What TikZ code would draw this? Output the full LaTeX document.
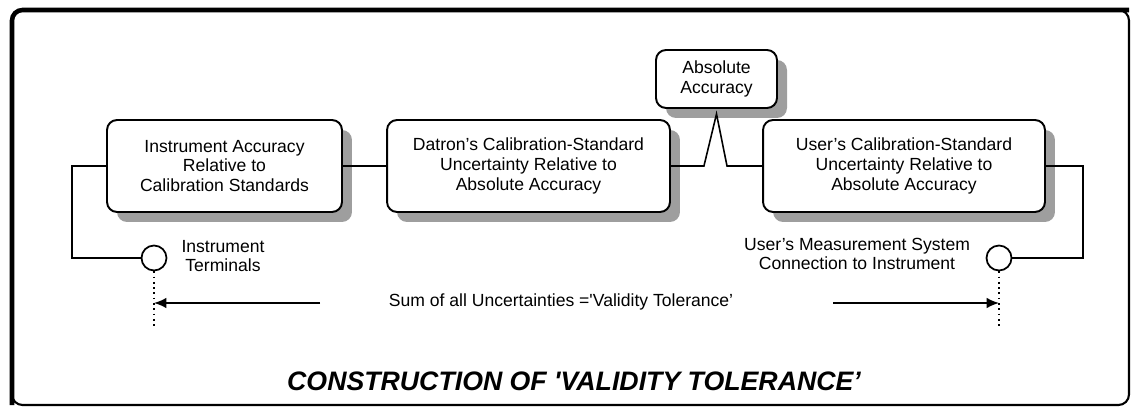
\documentclass[tikz,border=0pt]{standalone}
\usepackage{fontspec}
\setmainfont{Liberation Sans}
\usepackage{tikz}
\usetikzlibrary{arrows.meta,shadows}
\tikzset{>=Latex}
\tikzset{
  stdbox/.style={draw, line width=1.1pt, rounded corners=5.7pt, fill=white, align=center,
    font=\fontsize{10}{11.2}\selectfont, inner sep=0pt,
    general shadow={fill=black!38, shadow xshift=0.2cm, shadow yshift=-0.2cm}},
  lbl/.style={align=center, font=\fontsize{10}{11}\selectfont, inner sep=0pt},
  term/.style={draw, circle, line width=1pt, fill=white, minimum size=0.5cm, inner sep=0pt},
  wire/.style={line width=0.9pt},
  gauge/.style={line width=1pt, dotted},
  span/.style={line width=1pt, -{Latex[length=7pt,width=6pt]}}
}

\begin{document}
\begin{tikzpicture}[x=0.02cm, y=-0.02cm]
      \useasboundingbox (0,0) rectangle (1131,408);
      % frame
      \draw[line width=1.2pt, rounded corners=6pt] (12,10) rectangle (1129,405);
      \draw[line width=2.6pt, rounded corners=6pt] (12,405) -- (12,10) -- (1129,10);
      % the four accuracy boxes
      \node[stdbox, minimum width=4.7cm, minimum height=1.84cm] (instr) at (224.5,166)
        {Instrument Accuracy\\Relative to\\Calibration Standards};
      \node[stdbox, minimum width=5.66cm, minimum height=1.84cm] (datron) at (528.5,166)
        {Datron's Calibration-Standard\\Uncertainty Relative to\\Absolute Accuracy};
      \node[stdbox, minimum width=5.64cm, minimum height=1.84cm] (user) at (904,166)
        {User's Calibration-Standard\\Uncertainty Relative to\\Absolute Accuracy};
      \node[stdbox, minimum width=2.42cm, minimum height=1.16cm] (absacc) at (716.5,79)
        {Absolute\\Accuracy};
      % terminals
      \node[term] (termL) at (154,258) {};
      \node[term] (termR) at (999,258) {};
      \node[lbl] (termLlbl) at (223,256) {Instrument\\Terminals};
      \node[lbl] (termRlbl) at (857,254) {User's Measurement System\\Connection to Instrument};
      % chain of connections
      \draw[wire] (instr.west) -- ++(-34,0) |- (termL.west);
      \draw[wire] (instr.east) -- (datron.west);
      \draw[wire] (datron.east) -- ++(33,0) -- ([yshift=-0.1cm]absacc.south) -- (727,166) -- (user.west);
      \draw[wire] (user.east) -- ++(37,0) |- (termR.east);
      % validity tolerance span
      \node[lbl] (sum) at (561,302) {Sum of all Uncertainties =\textquotesingle Validity Tolerance'};
      \coordinate (endL) at (154,327);
      \coordinate (endR) at (999,327);
      \draw[gauge] (termL.south) -- (endL);
      \draw[gauge] (termR.south) -- (endR);
      \draw[span] (320,303) -- (termL |- 0,303);
      \draw[span] (833,303) -- (termR |- 0,303);
      \node[font=\fontsize{15.2}{17}\selectfont\bfseries\itshape] (title) at (574,381)
        {CONSTRUCTION OF \textquotesingle VALIDITY TOLERANCE'};
\end{tikzpicture}
\end{document}
